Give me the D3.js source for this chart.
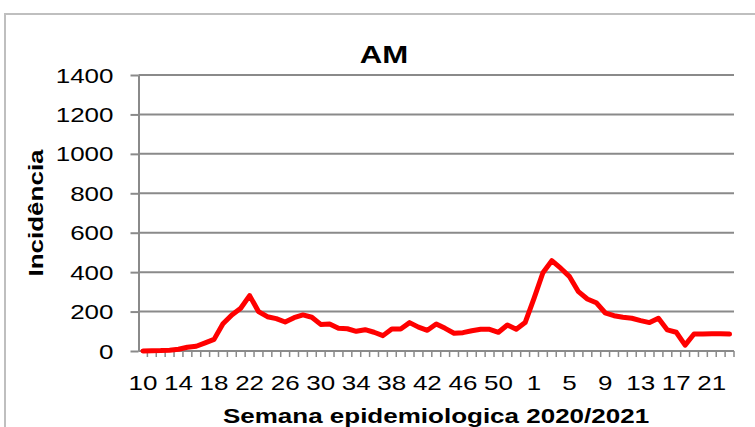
<!DOCTYPE html>
<html>
<head>
<meta charset="utf-8">
<script src="https://cdn.jsdelivr.net/npm/d3@7"></script>
<style>
  html, body { margin: 0; padding: 0; background: #ffffff; }
  svg { display: block; }
  text { font-family: "Liberation Sans", Arial, sans-serif; fill: #000; }
</style>
</head>
<body>
<svg id="chart" width="755" height="427"></svg>
<script>
// ---- data ----
const weeks2020 = [10,11,12,13,14,15,16,17,18,19,20,21,22,23,24,25,26,27,28,29,30,31,32,33,34,35,36,37,38,39,40,41,42,43,44,45,46,47,48,49,50,51,52,53];
const values2020 = [0,1,2,4,9,19,24,41,59,138,183,217,281,200,174,164,147,169,183,171,135,137,115,113,100,108,95,78,112,112,144,121,105,137,115,90,93,103,110,110,95,132,110,144];
const weeks2021 = [1,2,3,4,5,6,7,8,9,10,11,12,13,14,15,16,17,18,19,20,21,22,23];
const values2021 = [267,397,458,420,377,301,264,245,194,179,171,166,154,144,166,107,95,30,86,86,88,88,86];
const yTicks = [0,200,400,600,800,1000,1200,1400];
const xLabelEvery = 4;
const chartTitle = "AM";
const yTitle = "Incidência";
const xTitle = "Semana epidemiologica 2020/2021";

(function () {
// ---- build ----
const rows = [];
weeks2020.forEach((w, i) => rows.push({ key: "2020-" + w, label: String(w), value: values2020[i] }));
weeks2021.forEach((w, i) => rows.push({ key: "2021-" + w, label: String(w), value: values2021[i] }));

const SX = 1.3; // horizontal text stretch seen in the reference
const svg = d3.select("#chart");
const pLeft = 138.5, pRight = 734, pTop = 75, pBottom = 351;

// chart border
svg.append("rect")
  .attr("x", 5).attr("y", 14).attr("width", 790).attr("height", 460)
  .attr("fill", "none").attr("stroke", "#bfbfbf").attr("stroke-width", 2);

const x = d3.scaleBand().domain(rows.map(d => d.key)).range([pLeft, pRight]).padding(0);
const y = d3.scaleLinear().domain([0, 1400]).range([pBottom, pTop]);

const gridColor = "#8a8a8a";

// gridlines
svg.append("g")
  .selectAll("line").data(yTicks.filter(t => t > 0)).join("line")
  .attr("x1", pLeft).attr("x2", pRight)
  .attr("y1", d => y(d)).attr("y2", d => y(d))
  .attr("stroke", gridColor).attr("stroke-width", 2);

// y axis
const yAxis = svg.append("g").attr("transform", `translate(${pLeft},0)`)
  .call(d3.axisLeft(y).tickValues(yTicks).tickSize(8).tickSizeOuter(0).tickFormat(d3.format("d")));
yAxis.select(".domain").attr("stroke", gridColor).attr("stroke-width", 2);
yAxis.selectAll(".tick line").attr("stroke", gridColor).attr("stroke-width", 2);
yAxis.selectAll(".tick text")
  .attr("x", -25 / SX).attr("dy", "0.35em")
  .attr("transform", `scale(${SX},1)`)
  .style("font-size", "20px").attr("fill", "#000");

// x axis baseline (0 gridline) and tick marks between categories
const xAxisG = svg.append("g").attr("transform", `translate(0,${pBottom})`);
xAxisG.append("line").attr("x1", pLeft).attr("x2", pRight).attr("y1", 0).attr("y2", 0)
  .attr("stroke", gridColor).attr("stroke-width", 2);
const boundaries = rows.map(d => x(d.key)).concat([x(rows[rows.length - 1].key) + x.bandwidth()]);
xAxisG.selectAll("line.tk").data(boundaries.slice(1)).join("line").attr("class", "tk")
  .attr("x1", d => d).attr("x2", d => d).attr("y1", 0).attr("y2", 6)
  .attr("stroke", gridColor).attr("stroke-width", 1.5);

// x labels through d3 axis
const labelKeys = rows.filter((d, i) => i % xLabelEvery === 0).map(d => d.key);
const labelOf = new Map(rows.map(d => [d.key, d.label]));
const xAxis = svg.append("g").attr("transform", `translate(0,${pBottom})`)
  .call(d3.axisBottom(x).tickValues(labelKeys).tickSize(0).tickFormat(k => labelOf.get(k)));
xAxis.select(".domain").remove();
xAxis.selectAll(".tick text")
  .attr("y", 39).attr("dy", 0).attr("x", 0)
  .attr("transform", `scale(${SX},1)`)
  .style("font-size", "20px").attr("fill", "#000");

// line
const line = d3.line().x(d => x(d.key) + x.bandwidth() / 2).y(d => y(d.value));
svg.append("path").datum(rows)
  .attr("d", line).attr("fill", "none")
  .attr("stroke", "#ff0000").attr("stroke-width", 5)
  .attr("stroke-linejoin", "round").attr("stroke-linecap", "round");

// titles
svg.append("text")
  .attr("transform", `translate(384,63) scale(${SX},1)`)
  .attr("text-anchor", "middle").style("font-size", "24px").style("font-weight", "bold")
  .text(chartTitle);

svg.append("text")
  .attr("transform", `translate(43,213) rotate(-90) scale(${SX},1)`)
  .attr("text-anchor", "middle").style("font-size", "20px").style("font-weight", "bold")
  .text(yTitle);

svg.append("text")
  .attr("transform", `translate(436,423) scale(${SX},1)`)
  .attr("text-anchor", "middle").style("font-size", "20px").style("font-weight", "bold")
  .text(xTitle);
})();
</script>
</body>
</html>
